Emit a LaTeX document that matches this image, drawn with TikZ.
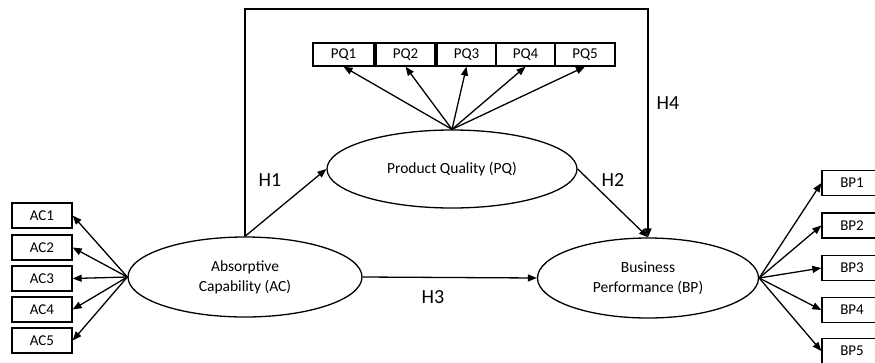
\documentclass[tikz,border=0pt]{standalone}
\usepackage{fontspec}
\setmainfont{Carlito}
\usetikzlibrary{shapes.geometric,arrows.meta}
\begin{document}
\begin{tikzpicture}[x=1pt,y=-1pt,
  line width=1.3pt,
  itembox/.style={draw,rectangle,minimum width=60pt,minimum height=25pt,inner sep=0pt,font=\fontsize{15}{18}\selectfont},
  pqbox/.style={itembox,minimum height=23pt},
  latent/.style={draw,ellipse,inner sep=0pt,align=center,font=\fontsize{15.5}{20}\selectfont},
  hyp/.style={font=\fontsize{20}{24}\selectfont},
  arr/.style={-{Triangle[length=9pt,width=7pt]}}]
\clip (0,0) rectangle (875,362);
\fill[white] (0,0) rectangle (875,362);
% latent variables
\node[latent,minimum width=234pt,minimum height=80pt] (AC) at (245,277) {Absorptive\\Capability (AC)};
\node[latent,minimum width=250pt,minimum height=78pt] (PQ) at (452,169) {Product Quality (PQ)};
\node[latent,minimum width=221pt,minimum height=80pt] (BP) at (648,278) {Business\\Performance (BP)};
% AC indicators
\node[itembox] (AC1) at (42,215.5) {AC1};
\node[itembox] (AC2) at (42,247.5) {AC2};
\node[itembox] (AC3) at (42,278.5) {AC3};
\node[itembox] (AC4) at (42,309.5) {AC4};
\node[itembox] (AC5) at (42,340.5) {AC5};
% PQ indicators
\node[pqbox,minimum width=61pt] (PQ1) at (343.5,54.5) {PQ1};
\node[pqbox,minimum width=59pt] (PQ2) at (405.5,54.5) {PQ2};
\node[pqbox,minimum width=59pt] (PQ3) at (466.5,54.5) {PQ3};
\node[pqbox,minimum width=59pt] (PQ4) at (525.5,54.5) {PQ4};
\node[pqbox,minimum width=60pt] (PQ5) at (585,54.5) {PQ5};
% BP indicators
\node[itembox] (BP1) at (852,183) {BP1};
\node[itembox] (BP2) at (852,225.5) {BP2};
\node[itembox] (BP3) at (852,268) {BP3};
\node[itembox] (BP4) at (852,310) {BP4};
\node[itembox] (BP5) at (852,351) {BP5};
% loadings
\foreach \i in {1,...,5} {
  \draw[arr] (AC.west) -- (AC\i.east);
  \draw[arr] (PQ.north) -- (PQ\i.south);
  \draw[arr] (BP.east) -- (BP\i.west);
}
% paths
\coordinate (tl) at (245,9);
\coordinate (tr) at (648,9);
\draw[arr] (AC.north) -- (PQ.west);
\draw[arr] (PQ.east) -- (BP.north);
\draw[arr] (AC.east) -- (BP.west);
\draw[arr] (AC.north) -- (tl) -- (tr) -- (BP.north);
% hypothesis labels
\node[hyp] (H1) at (270,180) {H1};
\node[hyp] (H2) at (613,180) {H2};
\node[hyp] (H3) at (433,297) {H3};
\node[hyp] (H4) at (668,103) {H4};
\end{tikzpicture}
\end{document}
